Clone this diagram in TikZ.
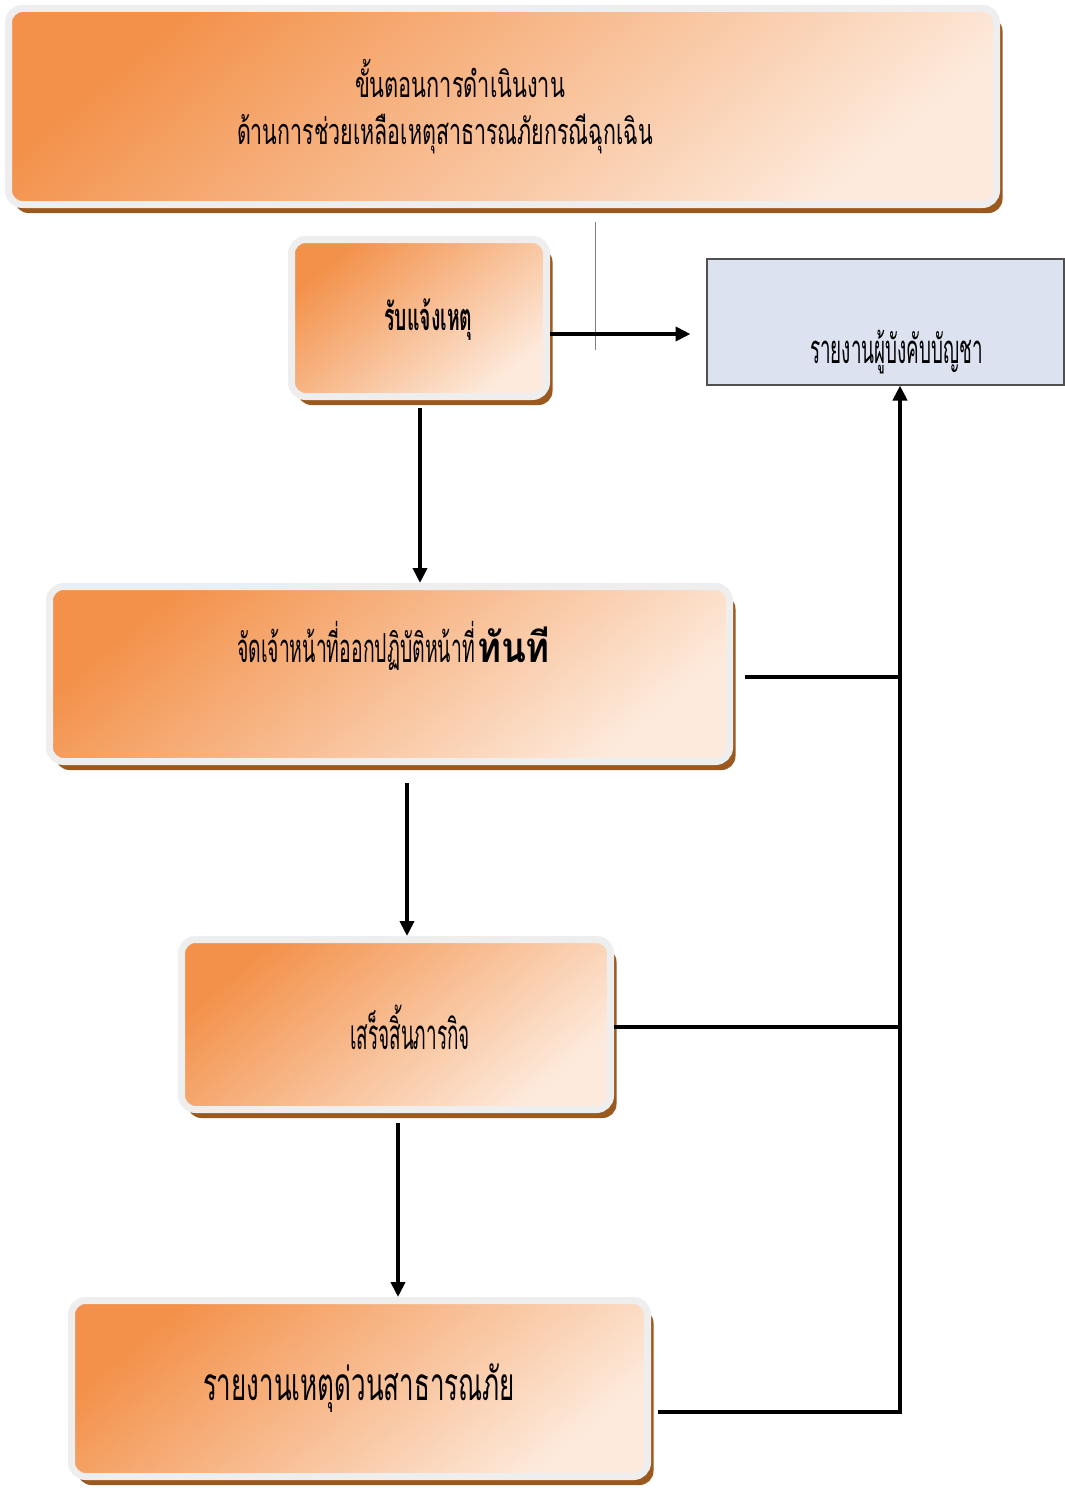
\documentclass[tikz,border=0pt]{standalone}
\usepackage{fontspec}
\usepackage{graphicx}
\newfontfamily\thaifont[Script=Thai]{Loma}
\usetikzlibrary{shadows,arrows.meta}
\definecolor{orA}{HTML}{F3914A}
\definecolor{orM}{HTML}{F8BE98}
\definecolor{orB}{HTML}{FDEADC}
\definecolor{rim}{HTML}{EEEEEE}
\definecolor{shad}{HTML}{9A5A1F}
\definecolor{bluefill}{HTML}{DCE2F0}
\definecolor{blueedge}{HTML}{505050}
\newcommand{\fitw}[2]{\resizebox{#1}{\height}{#2}}
\begin{document}
\begin{tikzpicture}[x=1pt,y=-1pt,
  stepbox/.style={rectangle, rounded corners=14pt, inner sep=0pt,
    draw=rim, line width=7pt,
    drop shadow={fill=shad, shadow xshift=6pt, shadow yshift=-8.5pt, opacity=1},
    top color=orA, middle color=orM, bottom color=orB, shading angle=40},
  txt/.style={anchor=base, inner sep=0pt},
  conn/.style={draw=black, line width=3.8pt},
  arr/.style={conn, -{Triangle[length=15pt,width=14pt]}}]
\useasboundingbox (0,0) rectangle (1065,1488);

% boxes
\node[stepbox, minimum width=988pt, minimum height=196pt] (b1) at (502.5,106.5) {};
\node[stepbox, minimum width=255pt, minimum height=157pt] (b2) at (419,318) {};
\node[stepbox, minimum width=680pt, minimum height=175pt] (b3) at (389.5,674) {};
\node[stepbox, minimum width=429pt, minimum height=170pt] (b4) at (396,1024.5) {};
\node[stepbox, minimum width=576pt, minimum height=176pt] (b5) at (359.5,1388.5) {};
\node[rectangle, draw=blueedge, line width=2pt, fill=bluefill, minimum width=357pt, minimum height=126pt, inner sep=0pt] (blue) at (885,321.5) {};

% texts
\node[txt, font=\thaifont\fontsize{36}{40}\selectfont] (t1a) at (460,97) {\fitw{210pt}{ขั้นตอนการดำเนินงาน}};
\node[txt, font=\thaifont\fontsize{36}{40}\selectfont] (t1b) at (445,144) {\fitw{416pt}{ด้านการช่วยเหลือเหตุสาธารณภัยกรณีฉุกเฉิน}};
\node[txt, font=\thaifont\bfseries\fontsize{38}{44}\selectfont] (t2) at (428.5,330) {\fitw{88pt}{รับแจ้งเหตุ}};
\node[txt, font=\thaifont\fontsize{40}{46}\selectfont] (t3) at (393.5,662) {\fitw{238pt}{จัดเจ้าหน้าที่ออกปฏิบัติหน้าที่}\hspace{2pt}\fitw{73pt}{\bfseries\fontsize{42}{46}\selectfont ทันที}};
\node[txt, font=\thaifont\fontsize{42}{48}\selectfont] (t4) at (410,1049) {\fitw{120pt}{เสร็จสิ้นภารกิจ}};
\node[txt, font=\thaifont\fontsize{46}{52}\selectfont] (t5) at (359,1400) {\fitw{312pt}{รายงานเหตุด่วนสาธารณภัย}};
\node[txt, font=\thaifont\fontsize{40}{46}\selectfont] (t6) at (896.5,363) {\fitw{173pt}{รายงานผู้บังคับบัญชา}};

% stray thin line
\draw[gray, line width=1pt] (595,222) -- (595,350);

% connectors
\coordinate (yA) at (0,334);
\draw[arr, shorten >=15pt] (b2.east |- yA) -- (blue.west |- yA);
\draw[arr, shorten <=8pt] ([xshift=1pt]b2.south) -- ([xshift=1pt]b2.south |- b3.north);
\coordinate (x2) at ([xshift=17.5pt]b3.south);
\draw[arr, shorten <=18pt] (x2) -- (x2 |- b4.north);
\coordinate (x3) at ([xshift=2pt]b4.south);
\draw[arr, shorten <=10pt] (x3) -- (x3 |- b5.north);

\coordinate (bus) at ([xshift=15pt]blue.south);
\draw[arr, shorten <=7pt] ([yshift=-23.5pt]b5.east) -| (bus);
\draw[conn, shorten <=12pt] ([yshift=-3pt]b3.east) -- ([yshift=-3pt]b3.east -| bus);
\draw[conn] ([yshift=-2.5pt]b4.east) -- ([yshift=-2.5pt]b4.east -| bus);
\end{tikzpicture}
\end{document}
